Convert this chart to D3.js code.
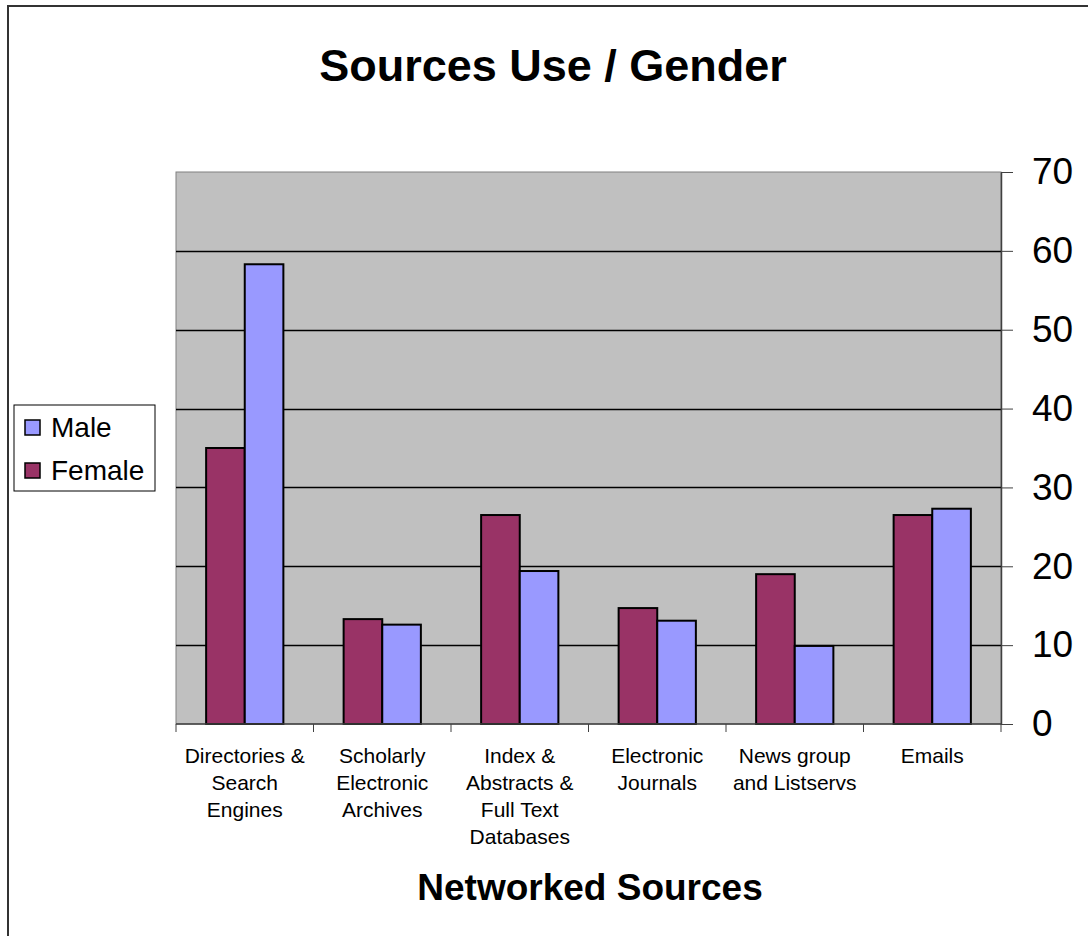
<!DOCTYPE html>
<html lang="en">
<head>
    <meta charset="UTF-8">
    <style>
        body { margin: 0; background: #fff; }
        svg { display: block; font-family: "Liberation Sans", Arial, sans-serif; }
        .grid line { stroke: #000; stroke-width: 1.3px; }
        .axis path, .axis line { stroke: #404040; }
    </style>
</head>
<body>
    <svg width="1088" height="936"></svg>
    <script src="https://d3js.org/d3.v7.min.js"></script>
    <script>

        var categories = [
            ["Directories &", "Search", "Engines"],
            ["Scholarly", "Electronic", "Archives"],
            ["Index &", "Abstracts &", "Full Text", "Databases"],
            ["Electronic", "Journals"],
            ["News group", "and Listservs"],
            ["Emails"]
        ];
        var female = [35, 13.3, 26.5, 14.7, 19, 26.5];
        var male = [58.3, 12.6, 19.4, 13.1, 9.9, 27.3];
        var yTicks = [0, 10, 20, 30, 40, 50, 60, 70];
        var seriesNames = ["Female", "Male"];
        var colors = {Female: "#993366", Male: "#9999FF"};

        var svg = d3.select("svg");

        // chart border, runs off the right and bottom edge
        svg.append("rect")
                .attr("x", 8).attr("y", 6)
                .attr("width", 1100).attr("height", 960)
                .attr("fill", "#fff")
                .attr("stroke", "#333").attr("stroke-width", 2);

        var plot = {left: 176, right: 1001, top: 172, bottom: 724};

        var x = d3.scaleBand()
                .domain(d3.range(categories.length))
                .range([plot.left, plot.right]);

        var x1 = d3.scaleBand()
                .domain(seriesNames)
                .range([0, x.bandwidth()])
                .paddingInner(0)
                .paddingOuter(0.78);

        var y = d3.scaleLinear().domain([0, 70]).range([plot.bottom, plot.top]);

        svg.append("rect")
                .attr("x", plot.left).attr("y", plot.top)
                .attr("width", plot.right - plot.left).attr("height", plot.bottom - plot.top)
                .attr("fill", "#C0C0C0")
                .attr("stroke", "#808080").attr("stroke-width", 1);

        svg.append("g")
                .attr("class", "grid")
                .selectAll("line")
                .data(yTicks.filter(function(d) { return d > 0 && d < 70; }))
                .enter().append("line")
                .attr("x1", plot.left).attr("x2", plot.right)
                .attr("y1", function(d) { return Math.round(y(d)) + 0.5; })
                .attr("y2", function(d) { return Math.round(y(d)) + 0.5; });

        // bars
        var data = categories.map(function(c, i) {
            return {i: i, values: [{key: "Female", v: female[i]}, {key: "Male", v: male[i]}]};
        });

        svg.append("g").selectAll("g")
                .data(data)
                .enter().append("g")
                .attr("transform", function(d) { return "translate(" + x(d.i) + ",0)"; })
                .selectAll("rect")
                .data(function(d) { return d.values; })
                .enter().append("rect")
                .attr("x", function(d) { return x1(d.key); })
                .attr("width", x1.bandwidth())
                .attr("y", function(d) { return y(d.v); })
                .attr("height", function(d) { return plot.bottom - y(d.v); })
                .attr("fill", function(d) { return colors[d.key]; })
                .attr("stroke", "#000").attr("stroke-width", 2);

        // right y axis
        var yAxis = svg.append("g")
                .attr("class", "axis")
                .attr("transform", "translate(" + plot.right + ",0)")
                .call(d3.axisRight(y).tickValues(yTicks).tickSize(12).tickSizeOuter(0));
        yAxis.selectAll("text")
                .style("font-size", "37px")
                .attr("fill", "#000")
                .attr("x", 31);
        yAxis.select(".domain").attr("stroke-width", 1.5);

        // x axis
        var xAxis = svg.append("g")
                .attr("class", "axis")
                .attr("transform", "translate(0," + plot.bottom + ")");
        xAxis.append("line")
                .attr("x1", plot.left).attr("x2", plot.right)
                .attr("stroke", "#404040").attr("stroke-width", 1.5);
        xAxis.selectAll(".tick")
                .data(d3.range(categories.length + 1))
                .enter().append("line")
                .attr("x1", function(d) { return plot.left + d * x.step(); })
                .attr("x2", function(d) { return plot.left + d * x.step(); })
                .attr("y1", 0).attr("y2", 8)
                .attr("stroke", "#404040");

        svg.append("g").selectAll("text")
                .data(categories)
                .enter().append("text")
                .attr("text-anchor", "middle")
                .attr("x", function(d, i) { return x(i) + x.bandwidth() / 2; })
                .attr("y", 763)
                .style("font-size", "21px")
                .selectAll("tspan")
                .data(function(d) { return d; })
                .enter().append("tspan")
                .attr("x", function() { return d3.select(this.parentNode).attr("x"); })
                .attr("dy", function(d, j) { return j === 0 ? 0 : 27; })
                .text(function(d) { return d; });

        // titles
        svg.append("text")
                .attr("x", 553).attr("y", 81)
                .attr("text-anchor", "middle")
                .style("font-size", "45px").style("font-weight", "bold")
                .text("Sources Use / Gender");

        svg.append("text")
                .attr("x", 590).attr("y", 900)
                .attr("text-anchor", "middle")
                .style("font-size", "37px").style("font-weight", "bold")
                .text("Networked Sources");

        // legend
        var legend = svg.append("g").attr("transform", "translate(14,405)");
        legend.append("rect")
                .attr("width", 141).attr("height", 86)
                .attr("fill", "#fff").attr("stroke", "#000").attr("stroke-width", 1);
        var entries = ["Male", "Female"];
        var item = legend.selectAll(".item")
                .data(entries)
                .enter().append("g")
                .attr("transform", function(d, i) { return "translate(0," + (22 + i * 43) + ")"; });
        item.append("rect")
                .attr("x", 11).attr("y", -7)
                .attr("width", 15).attr("height", 15)
                .attr("fill", function(d) { return colors[d]; })
                .attr("stroke", "#000").attr("stroke-width", 1.5);
        item.append("text")
                .attr("x", 37).attr("y", 10)
                .style("font-size", "28px")
                .text(function(d) { return d; });
    </script>
</body>
</html>
